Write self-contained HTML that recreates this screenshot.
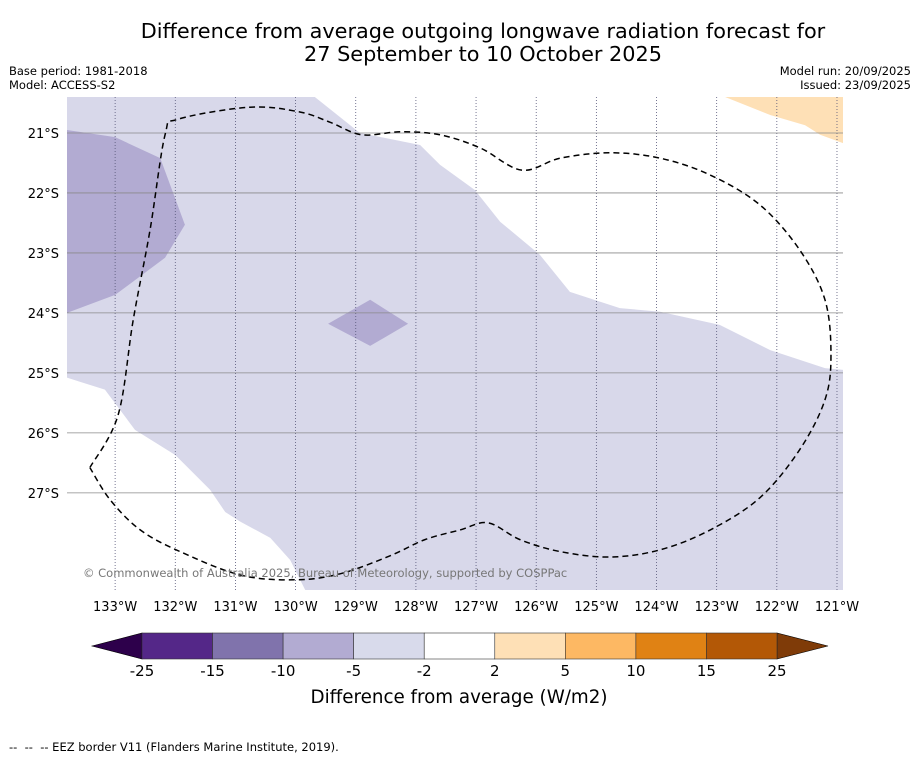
<!DOCTYPE html>
<html><head><meta charset="utf-8"><style>
body{margin:0;background:#fff;font-family:"Liberation Sans","DejaVu Sans",sans-serif;}
svg text{font-family:"DejaVu Sans","Liberation Sans",sans-serif;white-space:pre;}
</style></head><body>
<svg id="c" width="919" height="758" xmlns="http://www.w3.org/2000/svg">
<rect width="919" height="758" fill="#fff"/>
<text x="483" y="38" font-size="20.8" text-anchor="middle">Difference from average outgoing longwave radiation forecast for</text>
<text x="483" y="61" font-size="20.8" text-anchor="middle">27 September to 10 October 2025</text>
<text x="9" y="75" font-size="11.5">Base period: 1981-2018</text>
<text x="9" y="89" font-size="11.5">Model: ACCESS-S2</text>
<text x="911" y="75" font-size="11.5" text-anchor="end">Model run: 20/09/2025</text>
<text x="911" y="89" font-size="11.5" text-anchor="end">Issued: 23/09/2025</text>
<g id="map"></g>
<g id="cb"></g>
<text x="9" y="751" font-size="11.5" xml:space="preserve">--  --  -- EEZ border V11 (Flanders Marine Institute, 2019).</text>
</svg>
<script>
// axis definitions
const lonTicks=[133,132,131,130,129,128,127,126,125,124,123,122,121];
const latTicks=[21,22,23,24,25,26,27];
const lonRange=[133.8,120.9];
const latRange=[20.4,28.62];
// shaded regions [lonW, latS]
const whiteNE=[[129.68,20.40],[128.93,21.00],[127.93,21.20],[127.60,21.53],[127.02,21.95],[126.60,22.48],[125.94,23.03],[125.44,23.65],[124.61,23.92],[123.94,23.98],[122.95,24.20],[122.11,24.62],[121.20,24.92],[120.90,24.95],[120.90,20.40]];
const orangeNE=[[122.86,20.40],[122.11,20.70],[121.53,20.87],[121.28,21.03],[120.90,21.17],[120.90,20.40]];
const whiteSW=[[133.80,25.08],[133.17,25.28],[132.67,25.95],[132.00,26.37],[131.42,26.95],[131.17,27.32],[130.92,27.48],[130.42,27.75],[130.09,28.12],[129.84,28.62],[133.80,28.62]];
const purpleW=[[133.80,20.95],[133.00,21.07],[132.25,21.42],[131.84,22.53],[132.17,23.08],[133.00,23.70],[133.80,24.00]];
const purpleDiamond=[[129.46,24.18],[128.76,23.78],[128.13,24.18],[128.76,24.55]];
const eez=[[133.42,26.58],[132.95,25.70],[132.70,24.12],[132.42,22.62],[132.17,21.03],[131.95,20.77],[130.76,20.57],[129.93,20.65],[129.43,20.82],[128.90,21.03],[128.26,20.98],[127.60,21.03],[126.93,21.25],[126.24,21.62],[125.60,21.42],[124.77,21.33],[123.94,21.42],[123.11,21.70],[122.28,22.20],[121.62,22.95],[121.20,23.78],[121.10,24.70],[121.20,25.45],[121.62,26.28],[122.28,27.08],[123.11,27.62],[123.94,27.95],[124.77,28.07],[125.60,27.98],[126.27,27.78],[126.80,27.50],[127.27,27.62],[127.85,27.78],[128.43,28.05],[129.26,28.35],[130.01,28.45],[130.92,28.37],[131.92,27.98],[132.58,27.62],[133.08,27.12],[133.42,26.58]];
// colorbar
const cbLevels=["-25","-15","-10","-5","-2","2","5","10","15","25"];
const cbColors=["#542788","#8073ac","#b2abd2","#d8daeb","#ffffff","#fee0b6","#fdb863","#e08214","#b35806"];
const cbExt=["#2d004b","#7f3b08"];

const NS="http://www.w3.org/2000/svg";
const X0=67,X1=843,Y0=97,Y1=590;
function x(lon){return X0+(lonRange[0]-lon)/(lonRange[0]-lonRange[1])*(X1-X0);}
function y(lat){return Y0+(lat-latRange[0])/(latRange[1]-latRange[0])*(Y1-Y0);}
function mk(tag,attrs,parent){const e=document.createElementNS(NS,tag);for(const k in attrs)e.setAttribute(k,attrs[k]);parent.appendChild(e);return e;}
const map=document.getElementById('map');
const bg=mk('rect',{x:X0,y:Y0,width:X1-X0,height:Y1-Y0,fill:'#d8d8ea'},map);


function poly(pts,fill,name){const p=mk('polygon',{points:pts.map(q=>x(q[0])+','+y(q[1])).join(' '),fill:fill},map);

}
poly(whiteNE,'#ffffff','near-average-region-east');
poly(orangeNE,'#fee0b6','positive-anomaly-region');
poly(whiteSW,'#ffffff','near-average-region-southwest');
poly(purpleW,'#b2abd2','anomaly-minus10-region-west');
poly(purpleDiamond,'#b2abd2','anomaly-minus10-region-center');
lonTicks.forEach(l=>{const g=mk('line',{x1:x(l),x2:x(l),y1:Y0,y2:Y1,stroke:'#555577','stroke-width':0.8,'stroke-dasharray':'1,2'},map);


const t=mk('text',{x:x(l),y:611,'font-size':13,'text-anchor':'middle'},map);t.textContent=l+'°W';

});
latTicks.forEach(l=>{const g=mk('line',{x1:X0,x2:X1,y1:y(l),y2:y(l),stroke:'#8a8a8a','stroke-width':0.8},map);


const t=mk('text',{x:59,y:y(l)+5,'font-size':13,'text-anchor':'end'},map);t.textContent=l+'°S';

});
// smooth Catmull-Rom path
const P=eez.map(q=>[x(q[0]),y(q[1])]);
let d='M'+P[0][0]+','+P[0][1];
for(let i=0;i<P.length-1;i++){const p0=P[i-1]||P[i],p1=P[i],p2=P[i+1],p3=P[i+2]||p2;
const c1=[p1[0]+(p2[0]-p0[0])/6,p1[1]+(p2[1]-p0[1])/6],c2=[p2[0]-(p3[0]-p1[0])/6,p2[1]-(p3[1]-p1[1])/6];
d+=` C${c1[0]},${c1[1]} ${c2[0]},${c2[1]} ${p2[0]},${p2[1]}`;}
const ez=mk('path',{d:d,fill:'none',stroke:'#000','stroke-width':1.5,'stroke-dasharray':'6,4'},map);


const cr=mk('text',{x:83,y:577,'font-size':11.5,fill:'#777'},map);cr.textContent='© Commonwealth of Australia 2025, Bureau of Meteorology, supported by COSPPac';



const cb=document.getElementById('cb');
const CX0=142,CX1=777,CY0=633,CY1=659,n=cbColors.length,w=(CX1-CX0)/n;
function cx(i){return CX0+i*w;}
const lt=mk('polygon',{points:`92,646 ${CX0},${CY0} ${CX0},${CY1}`,fill:cbExt[0],stroke:'#000','stroke-width':0.6},cb);


const rt=mk('polygon',{points:`828,646 ${CX1},${CY0} ${CX1},${CY1}`,fill:cbExt[1],stroke:'#000','stroke-width':0.6},cb);


cbColors.forEach((c,i)=>{const r=mk('rect',{x:cx(i),y:CY0,width:w,height:CY1-CY0,fill:c,stroke:'#333','stroke-width':0.6},cb);

});
cbLevels.forEach((s,i)=>{const t=mk('text',{x:cx(i),y:676,'font-size':15,'text-anchor':'middle'},cb);t.textContent=s;

});
const ct=mk('text',{x:459,y:703,'font-size':18.3,'text-anchor':'middle'},cb);ct.textContent='Difference from average (W/m2)';


</script>
</body></html>
